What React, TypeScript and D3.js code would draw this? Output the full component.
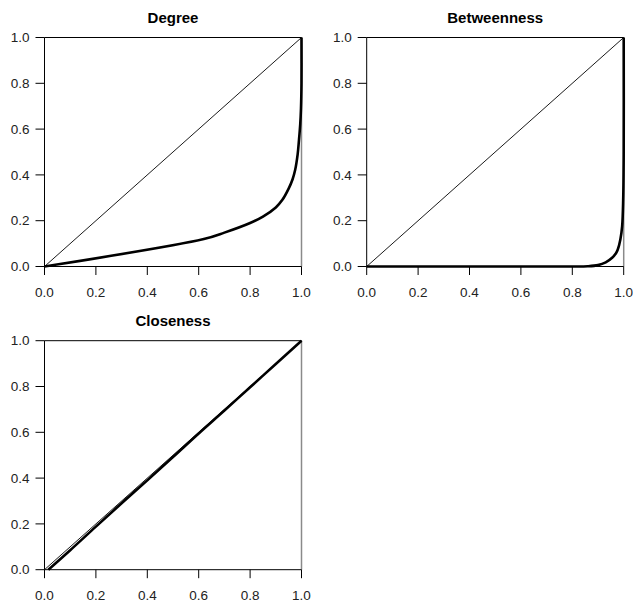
import { scaleLinear, line, curveCatmullRom } from "d3";

// Lorenz curves (cumulative share of nodes vs cumulative share of centrality)
const degreeX = [0, 0.62, 0.7, 0.8, 0.85, 0.9, 0.925, 0.95, 0.965, 0.975, 0.985, 0.99, 0.995, 0.998, 1, 1];
const degreeY = [0, 0.12, 0.148, 0.19, 0.218, 0.258, 0.29, 0.34, 0.38, 0.42, 0.49, 0.55, 0.62, 0.69, 0.8, 1];

const betweenX = [0, 0.5, 0.8, 0.86, 0.9, 0.93, 0.955, 0.97, 0.977, 0.987, 0.994, 0.998, 1, 1];
const betweenY = [0, 0, 0, 0.001, 0.006, 0.018, 0.038, 0.058, 0.074, 0.118, 0.176, 0.29, 0.5, 1];

const closeX = [0.015, 0.1, 0.2, 0.3, 0.4, 0.5, 0.6, 0.7, 0.8, 0.9, 1];
const closeY = [0, 0.085, 0.188, 0.29, 0.39, 0.492, 0.595, 0.695, 0.797, 0.898, 1];

const ticks = [0, 0.2, 0.4, 0.6, 0.8, 1.0];
const tickLabels = ["0.0", "0.2", "0.4", "0.6", "0.8", "1.0"];

const panels = [
  { title: "Degree", xs: degreeX, ys: degreeY, left: 44.5, top: 37.5 },
  { title: "Betweenness", xs: betweenX, ys: betweenY, left: 366.7, top: 37.5 },
  { title: "Closeness", xs: closeX, ys: closeY, left: 44.5, top: 340.7 },
];

const W = 257;
const H = 229;
const font = "Liberation Sans, Arial, Helvetica, sans-serif";

function Panel({ title, xs, ys, left, top }) {
  const x = scaleLinear().domain([0, 1]).range([left, left + W]);
  const y = scaleLinear().domain([0, 1]).range([top + H, top]);
  const pts = xs.map((v, i) => [v, ys[i]] as [number, number]);
  const path = line<[number, number]>()
    .x((d) => x(d[0]))
    .y((d) => y(d[1]));
  const smooth = line<[number, number]>()
    .x((d) => Math.min(x(d[0]), x(1)))
    .y((d) => y(d[1]))
    .curve(curveCatmullRom.alpha(0.5));

  return (
    <g>
      <text x={left + W / 2} y={top - 15} textAnchor="middle" fontSize={15} fontWeight="bold" fontFamily={font}>
        {title}
      </text>
      {/* box */}
      <line x1={x(1)} x2={x(1)} y1={y(0)} y2={y(1)} stroke="#8a8a8a" strokeWidth={1.5} />
      <line x1={x(0)} x2={x(1)} y1={y(1)} y2={y(1)} stroke="#000" strokeWidth={1} />
      <line x1={x(0)} x2={x(1)} y1={y(0)} y2={y(0)} stroke="#000" strokeWidth={1} />
      <line x1={x(0)} x2={x(0)} y1={y(0)} y2={y(1)} stroke="#000" strokeWidth={1} />
      {/* equality line */}
      <path d={path([[0, 0], [1, 1]])!} fill="none" stroke="#000" strokeWidth={0.9} />
      <path d={smooth(pts)!} fill="none" stroke="#000" strokeWidth={2.6} strokeLinejoin="round" />
      {ticks.map((t, i) => (
        <g key={"x" + i}>
          <line x1={x(t)} x2={x(t)} y1={y(0)} y2={y(0) + 8.5} stroke="#000" />
          <text x={x(t)} y={y(0) + 30.5} textAnchor="middle" fontSize={13.5} fontFamily={font} fill="#222">
            {tickLabels[i]}
          </text>
        </g>
      ))}
      {ticks.map((t, i) => (
        <g key={"y" + i}>
          <line x1={x(0) - 9} x2={x(0)} y1={y(t)} y2={y(t)} stroke="#000" />
          <text x={x(0) - 15} y={y(t) + 4.7} textAnchor="end" fontSize={13.5} fontFamily={font} fill="#222">
            {tickLabels[i]}
          </text>
        </g>
      ))}
    </g>
  );
}

export default function App() {
  return (
    <svg width={633} height={602} style={{ position: "absolute", left: 0, top: 0, background: "#fff" }}>
      <rect width={633} height={602} fill="#fff" />
      {panels.map((p) => (
        <Panel key={p.title} {...p} />
      ))}
    </svg>
  );
}
